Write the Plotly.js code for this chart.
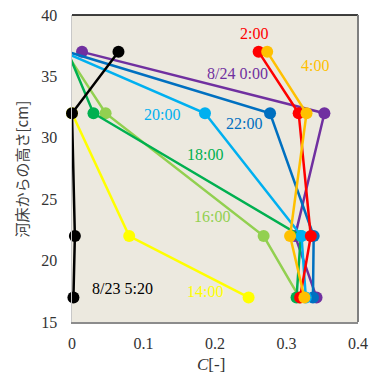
<!DOCTYPE html>
<html><head><meta charset="utf-8">
<script src="https://cdn.plot.ly/plotly-3.0.1.min.js"></script>
<style>html,body{margin:0;padding:0;background:#fff;}#chart{width:370px;height:373px;}</style>
</head><body><div id="chart"></div>
<script>
// Heights (cm) of the sampling points
const heights4 = [37, 32, 22, 17];
const heights3 = [32, 22, 17];

// Concentration C[-] per time (negative values fall outside the axis and are clipped)
const seriesNames = ["8/24 0:00", "14:00", "16:00", "18:00", "22:00", "20:00", "2:00", "4:00", "8/23 5:20"];
const c_0000 = [0.014, 0.353, 0.312, 0.342];
const c_1400 = [0.000, 0.080, 0.247];
const c_1600 = [-0.009, 0.047, 0.268, 0.318];
const c_1800 = [-0.006, 0.030, 0.320, 0.314];
const c_2200 = [-0.006, 0.277, 0.338, 0.337];
const c_2000 = [-0.012, 0.186, 0.321, 0.327];
const c_0200 = [0.261, 0.317, 0.334, 0.319];
const c_0400 = [0.273, 0.328, 0.305, 0.325];
const c_0520 = [0.065, 0.000, 0.004, 0.002];

const seriesX = [c_0000, c_1400, c_1600, c_1800, c_2200, c_2000, c_0200, c_0400, c_0520];
const seriesY = [heights4, heights3, heights4, heights4, heights4, heights4, heights4, heights4, heights4];
const colors = ["#7030A0", "#FFFF00", "#92D050", "#00B050", "#0070C0", "#00B0F0", "#FF0000", "#FFC000", "#000000"];

// Label positions (data coordinates)
const labelText = ["2:00", "4:00", "8/24 0:00", "22:00", "20:00", "18:00", "16:00", "14:00", "8/23 5:20"];
const labelX = [0.254, 0.340, 0.231, 0.240, 0.126, 0.186, 0.196, 0.186, 0.070];
const labelY = [38.5, 35.9, 35.25, 31.2, 31.9, 28.6, 23.6, 17.45, 17.7];
const labelColor = ["#FF0000", "#FFC000", "#7030A0", "#0070C0", "#00B0F0", "#00B050", "#92D050", "#FFFF00", "#000000"];

const traces = seriesX.map((xs, i) => ({
  type: "scatter", mode: "lines+markers",
  x: xs, y: seriesY[i], name: seriesNames[i],
  line: {color: colors[i], width: 2.5},
  marker: {color: colors[i], size: xs.map(v => v < 0 ? 0 : 12), opacity: 1, line: {width: 0}},
  opacity: 1,
  cliponaxis: false, showlegend: false
}));

const serif = "'Liberation Serif', 'DejaVu Serif', serif";
const annotations = labelText.map((t, i) => ({
  text: t, x: labelX[i], y: labelY[i], xref: "x", yref: "y",
  showarrow: false, font: {family: serif, size: 16, color: labelColor[i]},
  xanchor: "center", yanchor: "middle"
}));
annotations.push({
  text: "河床からの高さ[cm]", xref: "paper", yref: "paper",
  x: -0.175, y: 0.5, textangle: -90, showarrow: false,
  font: {family: "'Noto Sans CJK JP', sans-serif", size: 15, color: "#404040"},
  xanchor: "center", yanchor: "middle"
});
annotations.push({
  text: "<i>C</i>[-]", xref: "paper", yref: "paper",
  x: 0.485, y: -0.14, showarrow: false,
  font: {family: serif, size: 17, color: "#333"},
  xanchor: "center", yanchor: "middle"
});

const layout = {
  width: 370, height: 373,
  margin: {l: 72, r: 12, t: 15, b: 51},
  paper_bgcolor: "#ffffff", plot_bgcolor: "#ECE9DF",
  xaxis: {range: [0, 0.4], tickvals: [0, 0.1, 0.2, 0.3, 0.4], ticktext: ["0", "0.1", "0.2", "0.3", "0.4"],
    showgrid: false, zeroline: false, showline: true, linecolor: "#8C8C8C", linewidth: 1.5,
    ticks: "outside", ticklen: 6, tickcolor: "rgba(0,0,0,0)",
    tickfont: {family: serif, size: 16, color: "#333"}},
  yaxis: {range: [15, 40], tickvals: [15, 20, 25, 30, 35, 40],
    showgrid: false, zeroline: false, showline: true, linecolor: "#C8C8C8", linewidth: 1.5,
    ticks: "outside", ticklen: 10, tickcolor: "rgba(0,0,0,0)",
    tickfont: {family: serif, size: 16, color: "#333"}},
  shapes: [
    {type: "line", xref: "paper", yref: "paper", x0: 0, x1: 1, y0: 1, y1: 1, line: {color: "#000", width: 1.5}},
    {type: "line", xref: "paper", yref: "paper", x0: 1, x1: 1, y0: 0, y1: 1, line: {color: "#7F7F7F", width: 2}}
  ],
  annotations: annotations
};

Plotly.newPlot("chart", traces, layout, {staticPlot: true, displayModeBar: false});
</script></body></html>
